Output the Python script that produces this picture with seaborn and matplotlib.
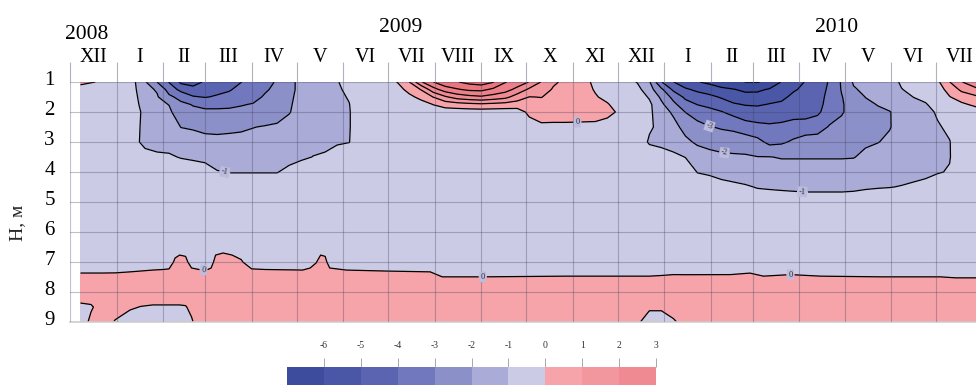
import matplotlib
matplotlib.use("Agg")
import matplotlib.pyplot as plt
import matplotlib.transforms as mtransforms
from matplotlib.colors import ListedColormap, BoundaryNorm
from matplotlib.cm import ScalarMappable
from matplotlib.ticker import NullLocator, FixedLocator
import numpy as np
import pandas as pd
import seaborn as sns

START = pd.Timestamp("2008-12-01")

# ---------------------------------------------------------------------------
# Ground temperature, degC.  Columns = days since 2008-12-01, rows = depth, m.
# Upper layer, 1-6 m
# ---------------------------------------------------------------------------
upper_days = [
    7, 20, 40, 50, 58, 66, 74, 82, 90, 98,
    106, 114, 122, 130, 138, 146, 154, 162, 170, 178,
    186, 194, 210, 218, 226, 234, 242, 250, 258, 266,
    274, 282, 290, 298, 306, 314, 322, 330, 340, 350,
    358, 366, 378, 386, 394, 402, 410, 418, 426, 434,
    442, 450, 458, 466, 474, 482, 490, 498, 506, 514,
    522, 530, 538, 546, 554, 562, 570, 578, 586, 594,
    604,
]
upper_depths = [1.0, 1.25, 1.5, 1.75, 2.0, 2.5, 3.0, 3.5, 4.0, 4.5, 5.0, 6.0]

t_100 = [
    0.3, -0.1, -0.5, -1.9, -3.0, -4.05, -5.2, -5.3, -4.9, -4.5,
    -4.3, -4.02, -3.7, -3.3, -2.9, -2.2, -1.8, -1.7, -1.45, -1.05,
    -0.7, -0.5, -0.3, 0.02, 0.98, 2.9, 3.98, 4.7, 4.95, 5.3,
    5.5, 5.05, 4.05, 3.6, 2.95, 1.95, 1.15, 0.8, 0.6, -0.3,
    -0.5, -0.5, -1.05, -1.9, -3.95, -4.98, -5.6, -5.95, -6.2, -6.5,
    -6.75, -7.02, -7.05, -6.8, -5.95, -5.4, -4.95, -4.6, -3.9, -2.9,
    -1.9, -1.6, -1.45, -1.25, -0.92, -0.7, -0.6, -0.2, 0.98, 1.95,
    2.9,
]
t_125 = [
    -0.5, -0.5, -0.5, -1.7, -2.1, -3.4, -4.3, -4.75, -4.5, -4.25,
    -4.1, -3.7, -3.5, -3.1, -2.8, -2.2, -1.8, -1.65, -1.45, -1.1,
    -0.85, -0.5, -0.5, -0.5, 0.4, 1.05, 2.6, 3.5, 3.9, 4.2,
    4.25, 3.8, 3.4, 2.7, 1.8, 1.5, 0.9, 0.75, 0.55, -0.1,
    -0.5, -0.5, -0.7, -1.6, -2.8, -4.2, -4.85, -5.2, -5.5, -5.8,
    -5.95, -6.2, -6.2, -5.9, -5.6, -5.1, -4.8, -4.5, -3.8, -2.95,
    -2.1, -1.8, -1.6, -1.45, -1.02, -0.85, -0.7, -0.5, 0.4, 1.2,
    1.75,
]
t_150 = [
    -0.5, -0.5, -0.5, -1.5, -1.9, -2.8, -3.3, -3.9, -4.05, -3.9,
    -3.7, -3.4, -3.25, -2.9, -2.65, -2.15, -1.75, -1.6, -1.4, -1.15,
    -0.95, -0.5, -0.5, -0.5, -0.3, 0.35, 1.02, 1.85, 2.45, 2.7,
    2.85, 2.6, 2.3, 1.5, 0.98, 1.02, 0.8, 0.7, 0.5, 0.1,
    -0.3, -0.5, -0.5, -1.1, -2.2, -3.3, -4.2, -4.55, -4.75, -5.1,
    -5.4, -5.65, -5.6, -5.4, -5.2, -4.8, -4.65, -4.4, -3.7, -3.05,
    -2.5, -1.98, -1.8, -1.6, -1.2, -0.99, -0.85, -0.6, -0.05, 0.5,
    0.85,
]
t_175 = [
    -0.5, -0.5, -0.5, -1.35, -1.8, -2.02, -2.8, -3.05, -3.2, -3.2,
    -3.15, -3.05, -2.95, -2.7, -2.5, -2.1, -1.7, -1.55, -1.4, -1.2,
    -1.02, -0.5, -0.5, -0.5, -0.5, -0.5, 0.02, 0.4, 0.55, 0.7,
    0.8, 0.7, 0.6, 0.55, 0.7, 0.75, 0.65, 0.6, 0.45, 0.3,
    0.1, -0.5, -0.5, -0.8, -1.8, -2.75, -3.6, -4.02, -4.2, -4.5,
    -4.9, -5.05, -5.1, -4.95, -4.85, -4.5, -4.5, -4.3, -3.65, -3.1,
    -2.6, -2.2, -1.97, -1.8, -1.45, -1.2, -1.05, -0.75, -0.4, -0.2,
    0.25,
]
t_200 = [
    -0.5, -0.5, -0.5, -1.2, -1.7, -1.85, -2.5, -2.8, -2.85, -2.85,
    -2.85, -2.8, -2.7, -2.5, -2.3, -2.05, -1.65, -1.5, -1.35, -1.2,
    -1.05, -0.5, -0.5, -0.5, -0.5, -0.5, -0.5, -0.5, -0.5, -0.5,
    -0.5, -0.5, -0.5, -0.5, 0.25, 0.5, 0.45, 0.45, 0.4, 0.35,
    0.2, -0.1, -0.5, -0.8, -1.6, -2.15, -3.02, -3.5, -3.75, -3.95,
    -4.3, -4.6, -4.6, -4.55, -4.45, -4.4, -4.35, -4.15, -3.6, -3.1,
    -2.6, -2.3, -2.15, -2.03, -1.75, -1.45, -1.25, -0.9, -0.6, -0.5,
    -0.5,
]
t_250 = [
    -0.5, -0.5, -0.5, -1.25, -1.5, -1.6, -2.02, -2.1, -2.2, -2.2,
    -2.15, -2.1, -2.02, -1.95, -1.9, -1.7, -1.5, -1.4, -1.3, -1.2,
    -1.05, -0.5, -0.5, -0.5, -0.5, -0.5, -0.5, -0.5, -0.5, -0.5,
    -0.5, -0.5, -0.5, -0.5, -0.5, -0.2, -0.2, -0.2, -0.2, -0.2,
    -0.3, -0.5, -0.5, -0.9, -1.2, -1.7, -2.3, -2.65, -2.95, -3.1,
    -3.2, -3.55, -3.75, -3.85, -3.8, -3.6, -3.6, -3.5, -2.9, -2.7,
    -2.45, -2.25, -2.15, -2.03, -1.8, -1.6, -1.4, -1.08, -0.85, -0.5,
    -0.5,
]
t_300 = [
    -0.5, -0.5, -0.5, -1.3, -1.3, -1.3, -1.5, -1.6, -1.75, -1.8,
    -1.8, -1.8, -1.75, -1.7, -1.65, -1.5, -1.35, -1.25, -1.2, -1.1,
    -1.02, -0.5, -0.5, -0.5, -0.5, -0.5, -0.5, -0.5, -0.5, -0.5,
    -0.5, -0.5, -0.5, -0.5, -0.5, -0.5, -0.5, -0.5, -0.5, -0.5,
    -0.5, -0.5, -0.5, -1.1, -1.15, -1.4, -1.8, -2.15, -2.3, -2.45,
    -2.5, -2.45, -2.7, -3.25, -3.15, -2.85, -2.5, -2.45, -2.4, -2.3,
    -2.25, -2.1, -2.02, -1.9, -1.7, -1.55, -1.4, -1.2, -1.03, -0.5,
    -0.5,
]
t_350 = [
    -0.5, -0.5, -0.5, -0.6, -0.85, -0.9, -1.05, -1.15, -1.25, -1.4,
    -1.45, -1.45, -1.45, -1.4, -1.35, -1.25, -1.15, -0.98, -0.9, -0.6,
    -0.5, -0.5, -0.5, -0.5, -0.5, -0.5, -0.5, -0.5, -0.5, -0.5,
    -0.5, -0.5, -0.5, -0.5, -0.5, -0.5, -0.5, -0.5, -0.5, -0.5,
    -0.5, -0.5, -0.5, -0.5, -0.75, -0.8, -1.02, -1.5, -1.7, -1.8,
    -1.85, -1.9, -1.98, -1.98, -2.05, -2.05, -2.05, -2.05, -2.05, -2.05,
    -2.03, -1.85, -1.75, -1.65, -1.5, -1.4, -1.3, -1.2, -1.04, -0.5,
    -0.5,
]
t_400 = [
    -0.5, -0.5, -0.5, -0.5, -0.5, -0.5, -0.5, -0.5, -0.6, -0.95,
    -1.03, -1.03, -1.03, -1.03, -1.03, -0.8, -0.5, -0.5, -0.5, -0.5,
    -0.5, -0.5, -0.5, -0.5, -0.5, -0.5, -0.5, -0.5, -0.5, -0.5,
    -0.5, -0.5, -0.5, -0.5, -0.5, -0.5, -0.5, -0.5, -0.5, -0.5,
    -0.5, -0.5, -0.5, -0.5, -0.5, -0.5, -0.5, -1.03, -1.15, -1.3,
    -1.4, -1.5, -1.6, -1.6, -1.65, -1.65, -1.65, -1.65, -1.65, -1.65,
    -1.65, -1.5, -1.45, -1.35, -1.25, -1.2, -1.12, -1.05, -0.95, -0.5,
    -0.5,
]
t_450 = [
    -0.5, -0.5, -0.5, -0.5, -0.5, -0.5, -0.5, -0.5, -0.5, -0.5,
    -0.5, -0.5, -0.5, -0.5, -0.5, -0.5, -0.5, -0.5, -0.5, -0.5,
    -0.5, -0.5, -0.5, -0.5, -0.5, -0.5, -0.5, -0.5, -0.5, -0.5,
    -0.5, -0.5, -0.5, -0.5, -0.5, -0.5, -0.5, -0.5, -0.5, -0.5,
    -0.5, -0.5, -0.5, -0.5, -0.5, -0.5, -0.5, -0.5, -0.5, -0.7,
    -0.8, -0.9, -1.05, -1.1, -1.15, -1.2, -1.25, -1.25, -1.25, -1.25,
    -1.2, -1.1, -1.05, -1.02, -0.97, -0.9, -0.85, -0.6, -0.5, -0.5,
    -0.5,
]
t_500 = [
    -0.5, -0.5, -0.5, -0.5, -0.5, -0.5, -0.5, -0.5, -0.5, -0.5,
    -0.5, -0.5, -0.5, -0.5, -0.5, -0.5, -0.5, -0.5, -0.5, -0.5,
    -0.5, -0.5, -0.5, -0.5, -0.5, -0.5, -0.5, -0.5, -0.5, -0.5,
    -0.5, -0.5, -0.5, -0.5, -0.5, -0.5, -0.5, -0.5, -0.5, -0.5,
    -0.5, -0.5, -0.5, -0.5, -0.5, -0.5, -0.5, -0.5, -0.5, -0.5,
    -0.5, -0.5, -0.5, -0.5, -0.5, -0.5, -0.5, -0.5, -0.5, -0.5,
    -0.5, -0.5, -0.5, -0.5, -0.5, -0.5, -0.5, -0.5, -0.5, -0.5,
    -0.5,
]
t_600 = [
    -0.5, -0.5, -0.5, -0.5, -0.5, -0.5, -0.5, -0.5, -0.5, -0.5,
    -0.5, -0.5, -0.5, -0.5, -0.5, -0.5, -0.5, -0.5, -0.5, -0.5,
    -0.5, -0.5, -0.5, -0.5, -0.5, -0.5, -0.5, -0.5, -0.5, -0.5,
    -0.5, -0.5, -0.5, -0.5, -0.5, -0.5, -0.5, -0.5, -0.5, -0.5,
    -0.5, -0.5, -0.5, -0.5, -0.5, -0.5, -0.5, -0.5, -0.5, -0.5,
    -0.5, -0.5, -0.5, -0.5, -0.5, -0.5, -0.5, -0.5, -0.5, -0.5,
    -0.5, -0.5, -0.5, -0.5, -0.5, -0.5, -0.5, -0.5, -0.5, -0.5,
    -0.5,
]

# ---------------------------------------------------------------------------
# Lower layer, 5-9 m
# ---------------------------------------------------------------------------
lower_days = [
    7, 14, 22, 30, 40, 47, 55, 62, 66, 70,
    73, 77, 81, 86, 91, 94, 97, 102, 108, 114,
    121, 130, 155, 160, 164, 167, 170, 173, 184, 210,
    240, 248, 275, 330, 370, 378, 386, 394, 402, 410,
    440, 453, 462, 480, 500, 540, 580, 590, 604,
]
lower_depths = [5.0, 6.5, 7.0, 7.5, 8.0, 8.5, 9.0]

b_500 = [
    -0.5, -0.5, -0.5, -0.5, -0.5, -0.5, -0.5, -0.5, -0.5, -0.5,
    -0.5, -0.5, -0.5, -0.5, -0.5, -0.5, -0.5, -0.5, -0.5, -0.5,
    -0.5, -0.5, -0.5, -0.5, -0.5, -0.5, -0.5, -0.5, -0.5, -0.5,
    -0.5, -0.5, -0.5, -0.5, -0.5, -0.5, -0.5, -0.5, -0.5, -0.5,
    -0.5, -0.5, -0.5, -0.5, -0.5, -0.5, -0.5, -0.5, -0.5,
]
b_650 = [
    -0.5, -0.5, -0.5, -0.5, -0.5, -0.5, -0.5, -0.5, -0.5, -0.5,
    -0.5, -0.5, -0.5, -0.5, -0.5, -0.5, -0.5, -0.5, -0.5, -0.5,
    -0.5, -0.5, -0.5, -0.5, -0.5, -0.5, -0.5, -0.5, -0.5, -0.5,
    -0.5, -0.5, -0.5, -0.5, -0.5, -0.5, -0.5, -0.5, -0.5, -0.5,
    -0.5, -0.5, -0.5, -0.5, -0.5, -0.5, -0.5, -0.5, -0.5,
]
b_700 = [
    -0.5, -0.5, -0.5, -0.5, -0.5, -0.5, -0.5, -0.5, -0.5, 0.18,
    0.43, 0.3, -0.5, -0.5, -0.5, -0.5, 0.43, 0.75, 0.43, 0.1,
    -0.5, -0.5, -0.5, -0.5, -0.05, 0.43, 0.3, -0.5, -0.5, -0.5,
    -0.5, -0.5, -0.5, -0.5, -0.5, -0.5, -0.5, -0.5, -0.5, -0.5,
    -0.5, -0.5, -0.5, -0.5, -0.5, -0.5, -0.5, -0.5, -0.5,
]
b_750 = [
    0.18, 0.18, 0.18, 0.19, 0.26, 0.33, 0.43, 0.5, 0.59, 0.6,
    0.6, 0.6, 0.75, 0.5, 0.43, 0.75, 0.75, 0.75, 0.75, 0.75,
    0.59, 0.5, 0.43, 0.75, 0.75, 0.75, 0.75, 0.75, 0.43, 0.33,
    0.26, 0.005, 0.005, 0.03, 0.03, 0.03, 0.03, 0.056, 0.095, 0.09,
    0.095, 0.176, 0.03, 0.095, 0.03, 0.005, 0.005, -0.03, -0.03,
]
b_800 = [
    0.5, 0.5, 0.5, 0.5, 0.5, 0.5, 0.5, 0.5, 0.5, 0.5,
    0.5, 0.5, 0.5, 0.5, 0.5, 0.5, 0.5, 0.5, 0.5, 0.5,
    0.5, 0.5, 0.5, 0.5, 0.5, 0.5, 0.5, 0.5, 0.5, 0.5,
    0.5, 0.5, 0.5, 0.5, 0.5, 0.5, 0.5, 0.5, 0.5, 0.5,
    0.5, 0.5, 0.5, 0.5, 0.5, 0.5, 0.5, 0.5, 0.5,
]
b_850 = [
    -0.18, -0.1, 0.4, 0.3, 0.1, -0.02, -0.08, -0.08, -0.08, -0.08,
    -0.08, -0.05, 0.2, 0.5, 0.5, 0.5, 0.5, 0.5, 0.5, 0.5,
    0.5, 0.5, 0.5, 0.5, 0.5, 0.5, 0.5, 0.5, 0.5, 0.5,
    0.5, 0.5, 0.5, 0.5, 0.5, 0.5, 0.1, 0.1, 0.5, 0.5,
    0.5, 0.5, 0.5, 0.5, 0.5, 0.5, 0.5, 0.5, 0.5,
]
b_900 = [
    -0.5, 0.2, 0.4, -0.05, -0.4, -0.4, -0.4, -0.4, -0.4, -0.4,
    -0.4, -0.4, -0.1, 0.4, 0.5, 0.5, 0.5, 0.5, 0.5, 0.5,
    0.5, 0.5, 0.5, 0.5, 0.5, 0.5, 0.5, 0.5, 0.5, 0.5,
    0.5, 0.5, 0.5, 0.5, 0.5, 0.1, -0.3, -0.3, -0.15, 0.4,
    0.5, 0.5, 0.5, 0.5, 0.5, 0.5, 0.5, 0.5, 0.5,
]

# Axis text
month_labels = ["XII", "I", "II", "III", "IV", "V", "VI", "VII", "VIII", "IX",
                "X", "XI", "XII", "I", "II", "III", "IV", "V", "VI", "VII"]
year_labels = ["2008", "2009", "2010"]
depth_ticks = [1, 2, 3, 4, 5, 6, 7, 8, 9]
cbar_ticks = [-6, -5, -4, -3, -2, -1, 0, 1, 2, 3]

# ---------------------------------------------------------------------------
upper_rows = [t_100, t_125, t_150, t_175, t_200, t_250, t_300, t_350,
              t_400, t_450, t_500, t_600]
lower_rows = [b_500, b_650, b_700, b_750, b_800, b_850, b_900]
for r in upper_rows:
    assert len(r) == len(upper_days), len(r)
for r in lower_rows:
    assert len(r) == len(lower_days), len(r)
Zu = np.array(upper_rows)
Zl = np.array(lower_rows)

sns.set_theme(style="white")
plt.rcParams["font.family"] = ["Liberation Serif", "DejaVu Serif"]
plt.rcParams["axes.unicode_minus"] = False

fill_levels = list(range(-8, 7))
fill_colors = sns.color_palette([
    "#3a4898", "#3e4c9e", "#4a57a6", "#5a64b0", "#7178bd", "#8c90c8",
    "#aaacd7", "#cbcbe5", "#f6a4a9", "#f2979e", "#ef8a92", "#ec7f87",
    "#e9757e", "#e66c76",
])
line_levels = list(range(-7, 6))
grid_color = "#3c3c5e"
tick_color = "#b2b2bc"

W, H = 976, 385
fig = plt.figure(figsize=(W / 100, H / 100), dpi=100)
ax = fig.add_axes([70 / W, 1 - 322 / H, (W - 70) / W, 240 / H])

ax.contourf(lower_days, lower_depths, Zl, levels=fill_levels,
            colors=fill_colors, zorder=1)
ax.contourf(upper_days, upper_depths, Zu, levels=fill_levels,
            colors=fill_colors, zorder=1)
cs_low = ax.contour(lower_days, lower_depths, Zl, levels=line_levels,
                    colors="black", linewidths=0.9, linestyles="solid",
                    zorder=2)
cs_up = ax.contour(upper_days, upper_depths, Zu, levels=line_levels,
                   colors="black", linewidths=0.9, linestyles="solid",
                   zorder=2)

ax.set_xlim(0, 603.6)
ax.set_ylim(9, 1)

label_box = dict(boxstyle="square,pad=0.15", fc="#bcbcde", ec="none")
lab_up = ax.clabel(cs_up, inline=True, inline_spacing=2,
                   fontsize=6, fmt="%d",
                   manual=[(103, 4.03), (338, 2.33), (426, 2.48),
                           (436, 3.38), (488, 4.67)])
lab_low = ax.clabel(cs_low, inline=True, inline_spacing=2,
                    fontsize=6, fmt="%d",
                    manual=[(89, 7.27), (275, 7.49), (480, 7.42)])
for t in list(lab_up) + list(lab_low):
    t.set_bbox(label_box)
    t.set_color("#2a2a2a")

# month boundaries and depth grid
month_starts = pd.date_range("2008-12-01", "2010-08-01", freq="MS")
bound_days = np.array((month_starts - START).days, dtype=float)
mid_days = (bound_days[:-1] + bound_days[1:]) / 2

ax.set_xticks(bound_days[:-1])
ax.set_yticks(depth_ticks)
ax.set_yticklabels([str(v) for v in depth_ticks])
ax.xaxis.set_ticks_position("top")
ax.tick_params(axis="x", length=14.4, width=0.8, color=tick_color,
               labeltop=False, labelbottom=False)
ax.tick_params(axis="y", length=5, width=0.8, color=tick_color, pad=6,
               labelsize=15, labelcolor="black")
lift = mtransforms.ScaledTranslation(0, 4 / 100, fig.dpi_scale_trans)
for lbl in ax.get_yticklabels():
    lbl.set_transform(lbl.get_transform() + lift)
ax.grid(True, color=grid_color, alpha=0.32, linewidth=0.8)
ax.set_axisbelow(False)
for side in ("top", "left", "right"):
    ax.spines[side].set_visible(False)
ax.spines["bottom"].set_color("#cfcfcf")
ax.spines["bottom"].set_linewidth(1.2)

trans = mtransforms.blended_transform_factory(ax.transData, ax.transAxes)
for d, lab in zip(mid_days, month_labels):
    ax.text(d, 1 + 20 / 240, lab, transform=trans, ha="center",
            va="baseline", fontsize=14.5, color="black")
year_pos = [(11.3, 1 + 43 / 240), (220, 1 + 50 / 240), (511, 1 + 50 / 240)]
for (d, y), lab in zip(year_pos, year_labels):
    ax.text(d, y, lab, transform=trans, ha="center", va="baseline",
            fontsize=15.5, color="black")

fig.text(18 / W, 1 - 223 / H, "H, м", rotation=90, ha="center",
         va="center", fontsize=14)

# colour scale
cax = fig.add_axes([287 / W, 1 - 392 / H, 369 / W, 25 / H])
bar_colors = ListedColormap(fill_colors[1:11])
bar_norm = BoundaryNorm(list(range(-7, 4)), bar_colors.N)
cb = fig.colorbar(ScalarMappable(norm=bar_norm, cmap=bar_colors), cax=cax,
                  orientation="horizontal", ticks=cbar_ticks)
cb.outline.set_visible(False)
for sp in cax.spines.values():
    sp.set_visible(False)
cax.yaxis.set_visible(False)
cax.xaxis.set_ticks_position("top")
cax.xaxis.set_major_locator(FixedLocator(cbar_ticks))
cax.xaxis.set_minor_locator(NullLocator())
cax.tick_params(axis="x", which="both", length=6.5, width=0.6,
                color="#9a9a9a", pad=6, labelsize=7, labelcolor="#333333")
cax.set_xticklabels([str(v) for v in cbar_ticks])

fig.savefig("out.png", dpi=100)
